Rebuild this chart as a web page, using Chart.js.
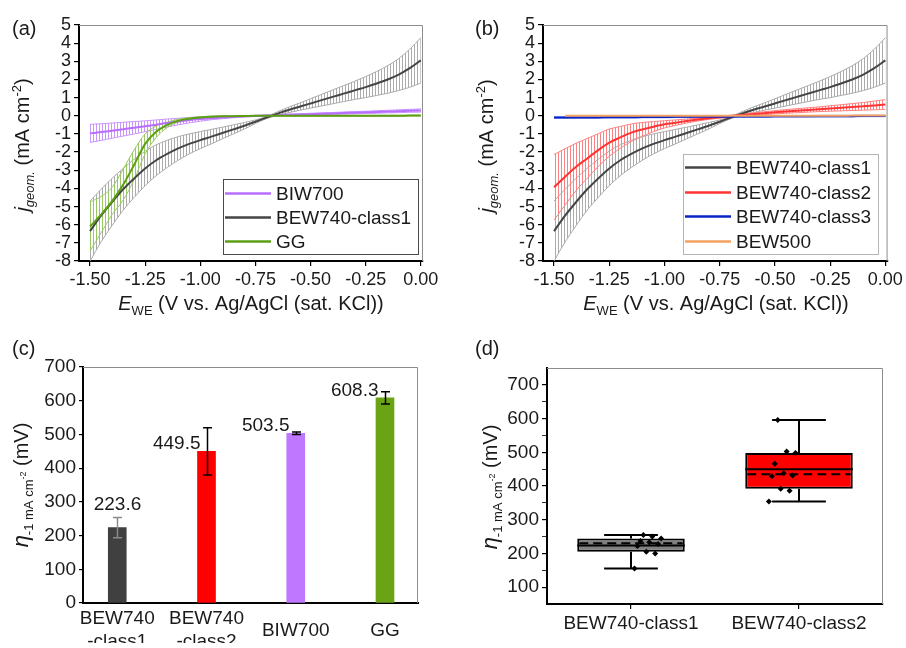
<!DOCTYPE html>
<html>
<head>
<meta charset="utf-8">
<script src="https://cdn.jsdelivr.net/npm/chart.js@4.4.0/dist/chart.umd.min.js"></script>
<style>
  html, body { margin: 0; padding: 0; background: #fff; }
  #wrap { position: relative; width: 906px; height: 648px; }
  #wrap canvas { position: absolute; left: 0; top: 0; }
</style>
</head>
<body>
<div id="wrap">
  <canvas id="chart-a" width="906" height="648"></canvas>
  <canvas id="chart-b" width="906" height="648"></canvas>
  <canvas id="chart-c" width="906" height="648"></canvas>
  <canvas id="chart-d" width="906" height="648"></canvas>
</div>
<script>
// ---------- data ----------
const potentials = [-1.50, -1.45, -1.40, -1.35, -1.30, -1.25, -1.20, -1.15, -1.10, -1.05, -1.00, -0.95, -0.90, -0.85, -0.80, -0.75,
  -0.70, -0.65, -0.60, -0.55, -0.50, -0.45, -0.40, -0.35, -0.30, -0.25, -0.20, -0.15, -0.10, -0.05, 0.00];
const potentialTicks = [-1.50, -1.25, -1.00, -0.75, -0.50, -0.25, 0.00];

const class1Mean = [-6.35, -5.50, -4.75, -4.05, -3.45, -2.90, -2.45, -2.10, -1.80, -1.55, -1.34, -1.15, -0.95, -0.75, -0.55, -0.33,
  -0.10, 0.12, 0.32, 0.50, 0.68, 0.86, 1.04, 1.22, 1.40, 1.58, 1.78, 2.00, 2.27, 2.62, 3.05];
const class1Sd = [1.65, 1.45, 1.30, 1.15, 1.05, 0.95, 0.85, 0.75, 0.65, 0.55, 0.47, 0.40, 0.32, 0.25, 0.18, 0.10,
  0.06, 0.10, 0.15, 0.20, 0.26, 0.32, 0.38, 0.44, 0.50, 0.58, 0.66, 0.76, 0.88, 1.05, 1.25];

const class2Mean = [-3.94, -3.36, -2.81, -2.35, -1.89, -1.48, -1.19, -0.93, -0.75, -0.60, -0.47, -0.38, -0.29, -0.21, -0.14, -0.08,
  -0.02, 0.04, 0.09, 0.14, 0.19, 0.24, 0.28, 0.32, 0.36, 0.40, 0.44, 0.48, 0.52, 0.57, 0.62];
const class2Sd = [1.80, 1.55, 1.30, 1.10, 0.90, 0.75, 0.60, 0.48, 0.38, 0.28, 0.20, 0.15, 0.11, 0.08, 0.06, 0.05,
  0.05, 0.06, 0.07, 0.08, 0.09, 0.10, 0.11, 0.12, 0.13, 0.15, 0.17, 0.19, 0.21, 0.24, 0.27];

const class3Mean = [-0.10, -0.10, -0.09, -0.09, -0.09, -0.08, -0.08, -0.08, -0.07, -0.07, -0.07, -0.06, -0.06, -0.06, -0.05, -0.05,
  -0.05, -0.04, -0.04, -0.04, -0.03, -0.03, -0.03, -0.03, -0.02, -0.02, -0.02, -0.02, -0.01, -0.01, -0.01];
const class3Sd = [0.04, 0.04, 0.04, 0.04, 0.04, 0.04, 0.04, 0.04, 0.04, 0.04, 0.04, 0.04, 0.04, 0.04, 0.04, 0.04,
  0.04, 0.04, 0.04, 0.04, 0.04, 0.04, 0.04, 0.04, 0.04, 0.04, 0.04, 0.04, 0.04, 0.04, 0.04];

const bew500Mean = [null, 0.00, 0.00, 0.00, 0.00, 0.00, 0.00, 0.00, 0.00, 0.00, 0.00, 0.00, 0.00, 0.00, 0.00, 0.00,
  0.00, 0.00, 0.00, 0.00, 0.00, 0.00, 0.00, 0.00, 0.00, 0.00, 0.00, 0.01, 0.01, 0.01, 0.01];

const biw700Mean = [-0.97, -0.90, -0.82, -0.74, -0.66, -0.58, -0.49, -0.40, -0.32, -0.24, -0.18, -0.13, -0.09, -0.06, -0.03, -0.01,
  0.01, 0.03, 0.05, 0.07, 0.09, 0.11, 0.13, 0.15, 0.17, 0.19, 0.21, 0.23, 0.25, 0.27, 0.29];
const biw700Sd = [0.50, 0.46, 0.42, 0.38, 0.34, 0.30, 0.26, 0.22, 0.18, 0.15, 0.12, 0.09, 0.07, 0.05, 0.04, 0.03,
  0.03, 0.03, 0.04, 0.04, 0.05, 0.05, 0.05, 0.06, 0.06, 0.06, 0.07, 0.07, 0.08, 0.08, 0.09];

const ggMean = [-6.10, -5.45, -4.70, -3.80, -2.70, -1.55, -0.88, -0.50, -0.27, -0.16, -0.09, -0.05, -0.03, -0.02, -0.01, 0.00,
  0.00, 0.00, 0.00, 0.00, 0.00, 0.00, 0.00, 0.00, 0.00, 0.00, 0.00, 0.00, 0.00, 0.01, 0.01];
const ggSd = [1.35, 1.00, 0.75, 0.85, 0.82, 0.55, 0.32, 0.15, 0.08, 0.05, 0.04, 0.03, 0.02, 0.02, 0.02, 0.02,
  0.02, 0.02, 0.02, 0.02, 0.02, 0.02, 0.02, 0.02, 0.02, 0.02, 0.02, 0.02, 0.02, 0.02, 0.02];

// panel (c)
const barLabels = [['BEW740', '-class1'], ['BEW740', '-class2'], 'BIW700', 'GG'];
const barValues = [223.6, 449.5, 503.5, 608.3];
const barErrors = [30, 70, 4, 18];

// panel (d)
const boxLabels = ['BEW740-class1', 'BEW740-class2'];
const boxQ1 = [205, 392];
const boxQ3 = [244, 498];
const boxMean = [223.6, 449.5];
const boxMedian = [230.5, 434.5];
const whiskerLow = [155, 354];
const whiskerHigh = [255, 596];
const class1Points = [155, 200, 205, 222, 228, 233, 237, 244, 250, 255];
const class2Points = [354, 386, 392, 429, 431, 438, 466, 498, 502, 596];

// ---------- look ----------
const FONT = '"Liberation Sans", Arial, Helvetica, sans-serif';
const INK = '#1a1a1a';
const COL = {
  class1: '#454545', class1Bar: '#ababab',
  class2: '#ff3333', class2Bar: '#ff8080',
  class3: '#0a23c8', class3Bar: '#7f8fe6',
  bew500: '#f4a261',
  biw700: '#b86dff', biw700Bar: '#c996ff',
  gg: '#5c9e14', ggBar: '#98c963'
};

Chart.defaults.font.family = FONT;
Chart.defaults.color = INK;
Chart.defaults.animation = false;
Chart.defaults.plugins.legend.display = false;
Chart.defaults.plugins.tooltip.enabled = false;

const W = 906, H = 648;

// vertical-stripe fill, looks like dense error bars
const hatch = (color) => {
  const c = document.createElement('canvas');
  c.width = 3; c.height = 4;
  const g = c.getContext('2d');
  g.fillStyle = color;
  g.fillRect(0, 0, 1, 4);
  return g.createPattern(c, 'repeat');
};

const band = (label, mean, sd, color, order) => [
  {
    label: label + ' +sd', data: potentials.map((x, i) => ({ x, y: mean[i] + sd[i] })),
    borderColor: color, borderWidth: 1, backgroundColor: hatch(color), fill: '+1',
    pointRadius: 0, cubicInterpolationMode: 'monotone', order
  },
  {
    label: label + ' -sd', data: potentials.map((x, i) => ({ x, y: mean[i] - sd[i] })),
    borderColor: color, borderWidth: 1, fill: false,
    pointRadius: 0, cubicInterpolationMode: 'monotone', order
  }
];

const meanLine = (label, mean, color, order) => ({
  label, data: potentials.map((x, i) => ({ x, y: mean[i] })),
  borderColor: color, borderWidth: 2, fill: false,
  pointRadius: 0, cubicInterpolationMode: 'monotone', order
});

// rich text (sub/superscripts), optionally rotated
const drawRich = (ctx, parts, x, y, rotate) => {
  ctx.save();
  ctx.translate(x, y);
  if (rotate) ctx.rotate(-Math.PI / 2);
  let total = 0;
  parts.forEach(p => { ctx.font = p.font; total += ctx.measureText(p.t).width; });
  let cx = -total / 2;
  ctx.textAlign = 'left';
  ctx.textBaseline = 'alphabetic';
  ctx.fillStyle = INK;
  parts.forEach(p => {
    ctx.font = p.font;
    ctx.fillText(p.t, cx, p.dy || 0);
    cx += ctx.measureText(p.t).width;
  });
  ctx.restore();
};

const f = (size, italic) => `${italic ? 'italic ' : ''}${size}px ${FONT}`;
const jTitle = [
  { t: 'j', font: f(20, true) }, { t: 'geom.', font: f(13, true), dy: 5 },
  { t: ' (mA cm', font: f(20) }, { t: '-2', font: f(13), dy: -8 }, { t: ')', font: f(20) }
];
const eTitle = [
  { t: 'E', font: f(20, true) }, { t: 'WE', font: f(13), dy: 5 },
  { t: ' (V vs. Ag/AgCl (sat. KCl))', font: f(20) }
];
const etaTitle = [
  { t: 'η', font: f(22, true) }, { t: '-1 mA cm', font: f(13), dy: 5 },
  { t: '-2', font: f(9), dy: -2 }, { t: ' (mV)', font: f(20) }
];

// frame, panel letter, axis titles
const decor = {
  id: 'decor',
  afterDatasetsDraw(chart) {
    const { ctx, chartArea: a } = chart;
    ctx.save();
    ctx.strokeStyle = '#8c8c8c';
    ctx.lineWidth = 1;
    ctx.beginPath();
    ctx.moveTo(a.left, a.top + 0.5);
    ctx.lineTo(a.right - 0.5, a.top + 0.5);
    ctx.lineTo(a.right - 0.5, a.bottom);
    ctx.stroke();
    ctx.restore();
  },
  afterDraw(chart, args, o) {
    const ctx = chart.ctx;
    ctx.save();
    ctx.font = f(20);
    ctx.fillStyle = INK;
    ctx.textBaseline = 'alphabetic';
    ctx.fillText(o.letter[0], o.letter[1], o.letter[2]);
    ctx.restore();
    if (o.yTitle) drawRich(ctx, o.yTitle[0], o.yTitle[1], o.yTitle[2], true);
    if (o.xTitle) drawRich(ctx, o.xTitle[0], o.xTitle[1], o.xTitle[2], false);
  }
};

const boxLegend = {
  id: 'boxLegend',
  afterDraw(chart, args, o) {
    const ctx = chart.ctx;
    ctx.save();
    ctx.strokeStyle = o.border;
    ctx.lineWidth = 1;
    ctx.strokeRect(o.x + 0.5, o.y + 0.5, o.w, o.h);
    ctx.font = f(19);
    ctx.textBaseline = 'middle';
    o.names.forEach((name, i) => {
      const ds = chart.data.datasets.find(d => d.label === name);
      const ry = Math.round(o.firstRow + i * o.rowGap) + 0.5;
      ctx.strokeStyle = ds.borderColor;
      ctx.lineWidth = 2.5;
      ctx.beginPath();
      ctx.moveTo(o.x + 2, ry);
      ctx.lineTo(o.x + 48, ry);
      ctx.stroke();
      ctx.fillStyle = INK;
      ctx.fillText(name, o.x + 53, ry + 1);
    });
    ctx.restore();
  }
};

const axisGrid = { drawOnChartArea: false, tickLength: 5, color: '#000', lineWidth: 1.2 };
const axisBorder = { color: '#000', width: 2 };

// place the plot area exactly: {l, t, r, b}
const place = (a) => ({
  autoPadding: false,
  padding: { left: a.l - 60, top: a.t, right: W - a.r, bottom: H - a.b - 40 }
});

const ivScales = () => ({
  x: {
    type: 'linear', min: -1.55, max: 0.01,
    afterFit: s => { s.height = 40; },
    afterBuildTicks: s => { s.ticks = potentialTicks.map(v => ({ value: v })); },
    ticks: { font: { size: 18 }, padding: 3, maxRotation: 0, autoSkip: false, callback: v => v.toFixed(2) },
    grid: axisGrid, border: axisBorder
  },
  y: {
    min: -8, max: 5,
    afterFit: s => { s.width = 60; },
    ticks: { stepSize: 1, font: { size: 18 }, padding: 3, autoSkip: false },
    grid: axisGrid, border: axisBorder
  }
});

// ---------- (a) ----------
new Chart(document.getElementById('chart-a'), {
  type: 'line',
  data: {
    datasets: [
      meanLine('GG', ggMean, COL.gg, 0),
      meanLine('BEW740-class1', class1Mean, COL.class1, 1),
      meanLine('BIW700', biw700Mean, COL.biw700, 2),
      ...band('GG', ggMean, ggSd, COL.ggBar, 3),
      ...band('BIW700', biw700Mean, biw700Sd, COL.biw700Bar, 4),
      ...band('BEW740-class1', class1Mean, class1Sd, COL.class1Bar, 5)
    ]
  },
  options: {
    responsive: false, devicePixelRatio: 1,
    layout: place({ l: 79, t: 25, r: 423, b: 261 }),
    scales: ivScales(),
    plugins: {
      decor: { letter: ['(a)', 12, 35], yTitle: [jTitle, 29, 145], xTitle: [eTitle, 251, 310] },
      boxLegend: { names: ['BIW700', 'BEW740-class1', 'GG'], x: 223, y: 179, w: 195, h: 75, firstRow: 193, rowGap: 24, border: '#4a4a4a' }
    }
  },
  plugins: [decor, boxLegend]
});

// ---------- (b) ----------
new Chart(document.getElementById('chart-b'), {
  type: 'line',
  data: {
    datasets: [
      meanLine('BEW500', bew500Mean, COL.bew500, 0),
      meanLine('BEW740-class3', class3Mean, COL.class3, 1),
      meanLine('BEW740-class2', class2Mean, COL.class2, 2),
      meanLine('BEW740-class1', class1Mean, COL.class1, 3),
      ...band('BEW740-class2', class2Mean, class2Sd, COL.class2Bar, 4),
      ...band('BEW740-class3', class3Mean, class3Sd, COL.class3Bar, 5),
      ...band('BEW740-class1', class1Mean, class1Sd, COL.class1Bar, 6)
    ]
  },
  options: {
    responsive: false, devicePixelRatio: 1,
    layout: place({ l: 543, t: 25, r: 888, b: 261 }),
    scales: ivScales(),
    plugins: {
      decor: { letter: ['(b)', 475, 35], yTitle: [jTitle, 493, 146], xTitle: [eTitle, 716, 310] },
      boxLegend: { names: ['BEW740-class1', 'BEW740-class2', 'BEW740-class3', 'BEW500'], x: 683, y: 154, w: 195, h: 100, firstRow: 167, rowGap: 24.6, border: '#b5b5b5' }
    }
  },
  plugins: [decor, boxLegend]
});

// ---------- (c) ----------
const barColors = ['#404040', '#ff0000', '#bf77ff', '#6ba316'];
const barErrColors = ['#8a8a8a', '#000', '#000', '#000'];

const barAnnotations = {
  id: 'barAnnotations',
  afterDatasetsDraw(chart) {
    const { ctx, scales: { x, y } } = chart;
    ctx.save();
    ctx.font = f(19);
    ctx.fillStyle = INK;
    barValues.forEach((v, i) => {
      const px = Math.round(x.getPixelForValue(i + 1)) + 0.5;
      const top = y.getPixelForValue(v + barErrors[i]);
      const bot = y.getPixelForValue(v - barErrors[i]);
      ctx.strokeStyle = barErrColors[i];
      ctx.lineWidth = 1.5;
      ctx.beginPath();
      ctx.moveTo(px, top); ctx.lineTo(px, bot);
      ctx.moveTo(px - 4.5, top); ctx.lineTo(px + 4.5, top);
      ctx.moveTo(px - 4.5, bot); ctx.lineTo(px + 4.5, bot);
      ctx.stroke();
      ctx.textBaseline = 'alphabetic';
      if (i === 0) {
        ctx.textAlign = 'center';
        ctx.fillText(v.toFixed(1), px, top - 8);
      } else {
        ctx.textAlign = 'right';
        ctx.fillText(v.toFixed(1), px - 7, y.getPixelForValue(v) - 2);
      }
    });
    ctx.restore();
  }
};

new Chart(document.getElementById('chart-c'), {
  type: 'bar',
  data: {
    datasets: [{
      data: barValues.map((v, i) => ({ x: i + 1, y: v })),
      backgroundColor: barColors, barThickness: 18
    }]
  },
  options: {
    responsive: false, devicePixelRatio: 1,
    layout: place({ l: 83, t: 367, r: 418, b: 603 }),
    scales: {
      x: {
        type: 'linear', min: 0.616, max: 4.37, offset: false,
        afterFit: s => { s.height = 40; },
        afterBuildTicks: s => { s.ticks = barLabels.map((c, i) => ({ value: i + 1 })); },
        ticks: { font: { size: 19 }, padding: 8, maxRotation: 0, autoSkip: false, crossAlign: 'center', callback: v => barLabels[v - 1] },
        grid: { display: false, offset: false }, border: axisBorder
      },
      y: {
        min: 0, max: 700,
        afterFit: s => { s.width = 60; },
        ticks: { stepSize: 100, font: { size: 19 }, padding: 3 },
        grid: { drawOnChartArea: false, tickLength: 4, color: '#000', lineWidth: 1.2 }, border: axisBorder
      }
    },
    plugins: {
      decor: { letter: ['(c)', 12, 355], yTitle: [etaTitle, 28, 485] }
    }
  },
  plugins: [decor, barAnnotations]
});

// ---------- (d) ----------
const boxColors = ['#808080', '#ff0000'];
const jitter = (k) => ((k * 7) % 10 - 4.5) * 0.022;

const boxStats = {
  id: 'boxStats',
  afterDatasetDraw(chart, args) {
    if (args.index !== 0) return;
    const { ctx, scales: { x, y } } = chart;
    const meta = chart.getDatasetMeta(0);
    const capHalf = x.width / boxLabels.length * 0.16;
    ctx.save();
    ctx.strokeStyle = '#000';
    ctx.lineWidth = 2;
    boxLabels.forEach((lab, i) => {
      const { x: cx, width } = meta.data[i].getProps(['x', 'width'], true);
      const half = width / 2;
      const yq1 = y.getPixelForValue(boxQ1[i]), yq3 = y.getPixelForValue(boxQ3[i]);
      const ylo = y.getPixelForValue(whiskerLow[i]), yhi = y.getPixelForValue(whiskerHigh[i]);
      ctx.setLineDash([]);
      ctx.beginPath();
      ctx.moveTo(cx, yq3); ctx.lineTo(cx, yhi);
      ctx.moveTo(cx - capHalf, yhi); ctx.lineTo(cx + capHalf, yhi);
      ctx.moveTo(cx, yq1); ctx.lineTo(cx, ylo);
      ctx.moveTo(cx - capHalf, ylo); ctx.lineTo(cx + capHalf, ylo);
      const ym = y.getPixelForValue(boxMean[i]);
      ctx.moveTo(cx - half, ym); ctx.lineTo(cx + half, ym);
      ctx.stroke();
      ctx.setLineDash([9, 5]);
      ctx.beginPath();
      const yd = y.getPixelForValue(boxMedian[i]);
      ctx.moveTo(cx - half + 2, yd); ctx.lineTo(cx + half - 2, yd);
      ctx.stroke();
    });
    ctx.restore();
  }
};

new Chart(document.getElementById('chart-d'), {
  type: 'bar',
  data: {
    labels: boxLabels,
    datasets: [
      {
        type: 'bar', order: 2, grouped: false,
        data: boxQ1.map((q, i) => [q, boxQ3[i]]),
        backgroundColor: boxColors, borderColor: '#000', borderWidth: 2, borderSkipped: false,
        barPercentage: 0.64, categoryPercentage: 1
      },
      {
        type: 'scatter', order: 1, xAxisID: 'xj',
        data: [
          ...class1Points.map((v, k) => ({ x: 0 + jitter(k), y: v })),
          ...class2Points.map((v, k) => ({ x: 1 + jitter(k), y: v }))
        ],
        pointStyle: 'rectRot', pointRadius: 3, backgroundColor: '#000', borderColor: '#000', borderWidth: 0
      }
    ]
  },
  options: {
    responsive: false, devicePixelRatio: 1,
    layout: place({ l: 547, t: 368, r: 883, b: 604 }),
    scales: {
      x: {
        afterFit: s => { s.height = 40; },
        ticks: { font: { size: 19 }, padding: 3 },
        grid: { drawOnChartArea: false, offset: false, tickLength: 5, color: '#000', lineWidth: 1.2 },
        border: axisBorder
      },
      xj: { type: 'linear', min: -0.5, max: 1.5, display: false },
      y: {
        min: 50, max: 750,
        afterFit: s => { s.width = 60; },
        afterBuildTicks: s => { s.ticks = s.ticks.filter(t => t.value > 50 && t.value < 750); },
        ticks: { stepSize: 50, font: { size: 19 }, padding: 3, autoSkip: false, callback: v => (v % 100 === 0 ? v : '') },
        grid: { drawOnChartArea: false, tickLength: 5, color: '#000', lineWidth: c => (c.tick && c.tick.value % 100 === 0 ? 1.2 : 0.8) },
        border: axisBorder
      }
    },
    plugins: {
      decor: { letter: ['(d)', 475, 355], yTitle: [etaTitle, 497, 487] }
    }
  },
  plugins: [decor, boxStats]
});
</script>
</body>
</html>
